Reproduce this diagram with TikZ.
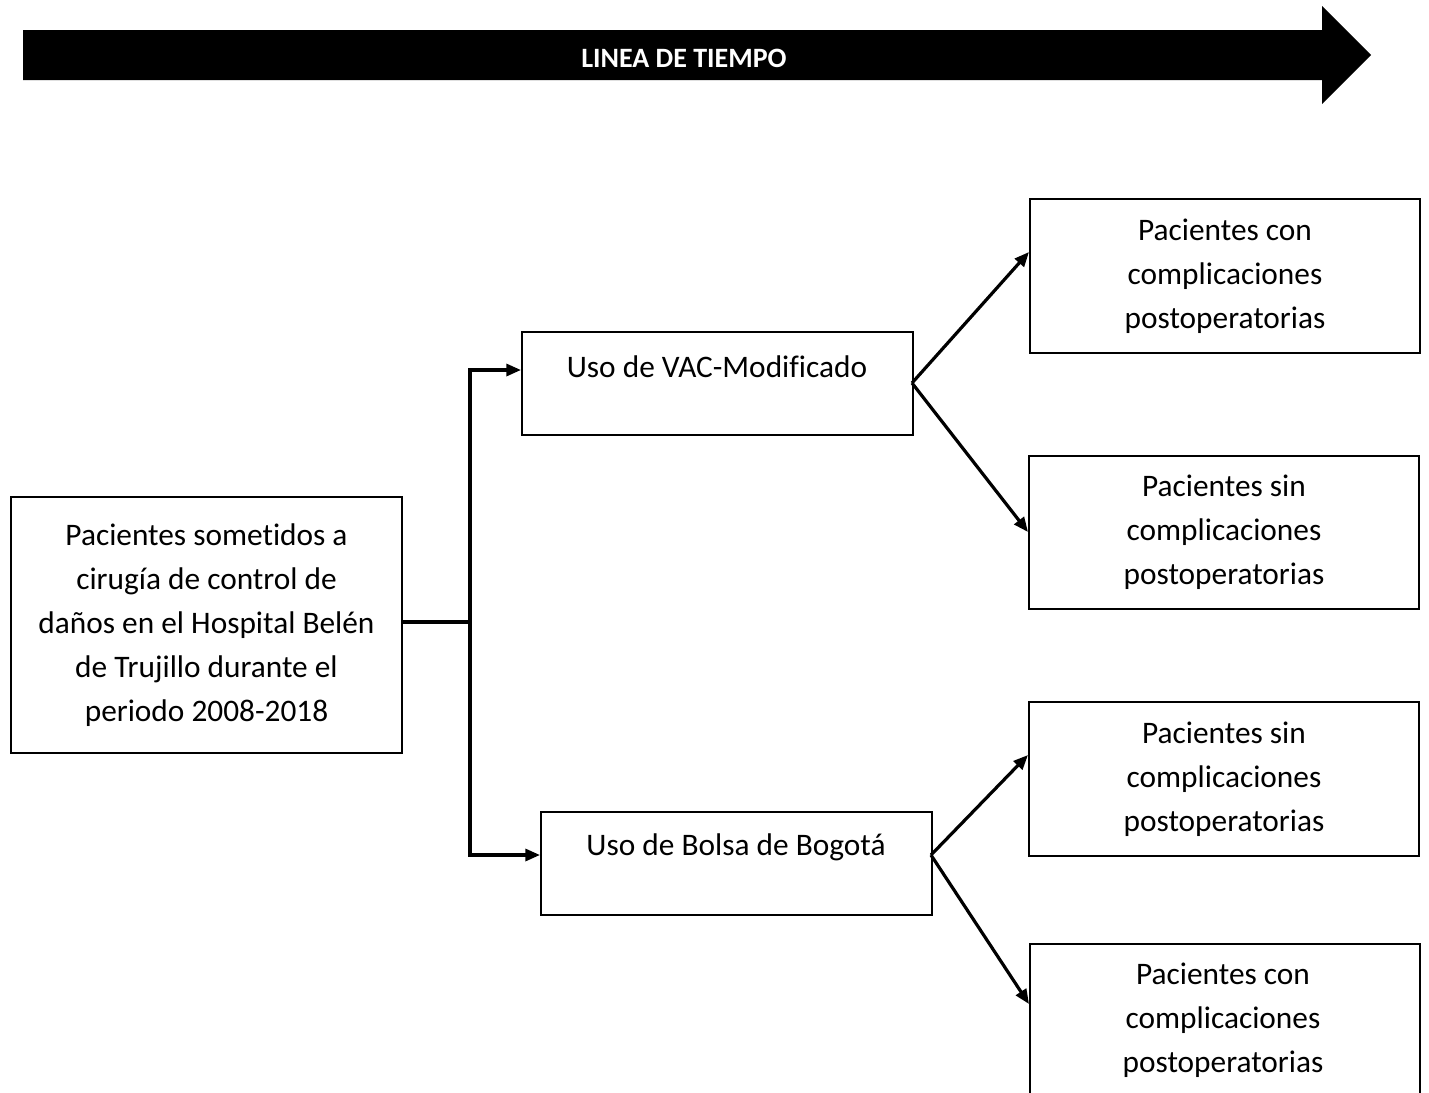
\documentclass[tikz,border=0pt]{standalone}
\usepackage{fontspec}
\setmainfont{Carlito}[Ligatures={NoCommon}]
\usetikzlibrary{arrows.meta}
\begin{document}
\begin{tikzpicture}[x=0.75pt,y=-0.75pt,
  box/.style={draw=black,line width=1.5pt,fill=white,inner sep=0pt,anchor=north west},
  txt/.style={align=center,inner sep=0pt,font=\fontsize{23.5}{33}\selectfont},
  conn/.style={line width=2.4pt,-{Triangle[length=11pt,width=9pt]}},
  plain/.style={line width=2.4pt}]
\useasboundingbox (0,0) rectangle (1429,1093);
% timeline arrow
\fill[black] (23,30) -- (1322,30) -- (1322,6) -- (1371,55) -- (1322,104) -- (1322,80) -- (23,80) -- cycle;
\node[text=white,font=\bfseries\fontsize{21}{25}\selectfont,inner sep=0pt] (tl) at (684,58) {LINEA DE TIEMPO};
% boxes
\node[box,minimum width=391*0.75pt,minimum height=256*0.75pt] (src) at (10,496) {};
\node[txt] (srct) at (src.center) {Pacientes sometidos a\\cirugía de control de\\daños en el Hospital Belén\\de Trujillo durante el\\periodo 2008-2018};
\node[box,minimum width=391*0.75pt,minimum height=103*0.75pt] (vac) at (521,331) {};
\node[txt] (vact) at (717,367) {Uso de VAC-Modificado};
\node[box,minimum width=391*0.75pt,minimum height=103*0.75pt] (bol) at (540,811) {};
\node[txt] (bolt) at (736,847) {Uso de Bolsa de Bogotá};
\node[box,minimum width=390*0.75pt,minimum height=154*0.75pt] (r1) at (1029,198) {};
\node[txt] (r1t) at (r1.center) {Pacientes con\\complicaciones\\postoperatorias};
\node[box,minimum width=390*0.75pt,minimum height=153*0.75pt] (r2) at (1028,455) {};
\node[txt] (r2t) at (r2.center) {Pacientes sin\\complicaciones\\postoperatorias};
\node[box,minimum width=390*0.75pt,minimum height=154*0.75pt] (r3) at (1028,701) {};
\node[txt] (r3t) at (r3.center) {Pacientes sin\\complicaciones\\postoperatorias};
\node[box,minimum width=390*0.75pt,minimum height=160*0.75pt] (r4) at (1029,943) {};
\node[txt] (r4t) at (1223,1020) {Pacientes con\\complicaciones\\postoperatorias};
% connectors
\coordinate (j) at (470,622);
\draw[plain] (src.east |- j) -- (j);
\draw[conn] (j) |- (vac.west |- 0,370);
\draw[conn] (j) |- (bol.west |- 0,855);
\coordinate (va) at (912,383);
\coordinate (bo) at (931,855);
\draw[conn] (va) -- (r1.west |- 0,252);
\draw[conn] (va) -- (r2.west |- 0,532);
\draw[conn] (bo) -- (r3.west |- 0,755);
\draw[conn] (bo) -- (r4.west |- 0,1004);
\end{tikzpicture}
\end{document}
